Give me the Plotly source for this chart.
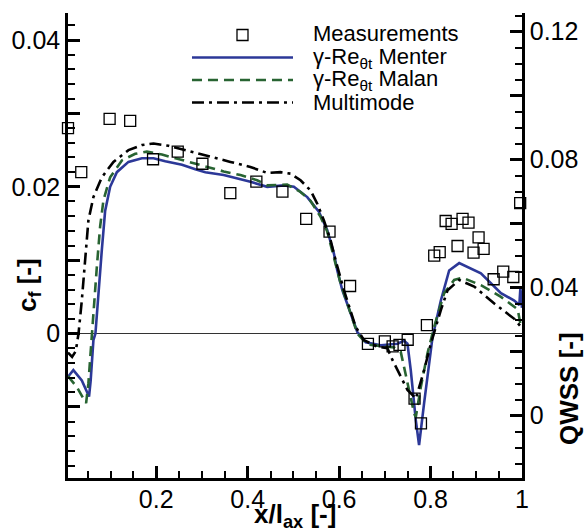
import plotly.graph_objects as go

# ---------------- data ----------------
menter_x = [0.007, 0.0187, 0.0372, 0.0530, 0.0565, 0.0626, 0.0670, 0.0722, 0.0810, 0.0882, 0.0992,
            0.1139, 0.1393, 0.1687, 0.1941, 0.2197, 0.2563, 0.2855, 0.3074, 0.3475, 0.4060,
            0.4426, 0.4790, 0.5010, 0.5303, 0.5557, 0.5741, 0.5886, 0.5960, 0.6070, 0.6252,
            0.6399, 0.6581, 0.6910, 0.7276, 0.7420, 0.7495, 0.7567, 0.7677, 0.7749, 0.7859,
            0.8043, 0.8225, 0.8407, 0.8626, 0.9101, 0.9540, 0.9830, 0.9942, 0.9965, 1.0]
menter_cf = [-0.0059, -0.0050, -0.0064, -0.0086, -0.0065, -0.0009, 0.0000, 0.0045, 0.0114, 0.0167, 0.0200,
             0.0220, 0.0234, 0.0239, 0.0239, 0.0235, 0.0230, 0.0224, 0.0220, 0.0216, 0.0207,
             0.0200, 0.0202, 0.0200, 0.0186, 0.0166, 0.0141, 0.0109, 0.0086, 0.0059, 0.0027,
             0.0002, -0.0012, -0.0016, -0.0014, -0.0010, -0.0014, -0.0050, -0.0118, -0.0152, -0.0095,
             -0.0005, 0.0045, 0.0086, 0.0096, 0.0082, 0.0055, 0.0045, 0.0039, 0.0062, 0.0035]

malan_x = [0.007, 0.0262, 0.0466, 0.0516, 0.0553, 0.0591, 0.0648, 0.0701, 0.0773, 0.0846, 0.0992,
           0.1248, 0.1540, 0.1796, 0.2125, 0.2417, 0.2783, 0.3002, 0.3475, 0.3841, 0.4207,
           0.4426, 0.4865, 0.5156, 0.5375, 0.5595, 0.5741, 0.6033, 0.6399, 0.6618, 0.6983,
           0.7202, 0.7348, 0.7421, 0.7531, 0.7641, 0.7677, 0.7787, 0.7933, 0.8079, 0.8298,
           0.8517, 0.8700, 0.9101, 0.9540, 0.9905, 0.9963, 1.0]
malan_cf = [-0.0058, -0.0073, -0.0095, -0.0068, -0.0036, 0.0000, 0.0045, 0.0091, 0.0146, 0.0182, 0.0213,
            0.0236, 0.0245, 0.0248, 0.0244, 0.0239, 0.0233, 0.0230, 0.0221, 0.0216, 0.0209,
            0.0202, 0.0203, 0.0193, 0.0181, 0.0159, 0.0139, 0.0068, 0.0000, -0.0015, -0.0018,
            -0.0019, -0.0025, -0.0046, -0.0077, -0.0109, -0.0114, -0.0073, -0.0027, 0.0009, 0.0055,
            0.0073, 0.0076, 0.0066, 0.0050, 0.0033, 0.0014, 0.0010]

multi_x = [0.007, 0.0160, 0.0240, 0.0300, 0.0372, 0.0444, 0.0516, 0.0626, 0.0810, 0.1064, 0.1393,
           0.1687, 0.1941, 0.2270, 0.2636, 0.3002, 0.3184, 0.3622, 0.4060, 0.4426, 0.4718,
           0.4937, 0.5156, 0.5375, 0.5522, 0.5667, 0.5814, 0.5923, 0.6105, 0.6362, 0.6544,
           0.6837, 0.7056, 0.7166, 0.7348, 0.7495, 0.7639, 0.7677, 0.7859, 0.8005, 0.8225,
           0.8372, 0.8626, 0.8954, 0.9393, 0.9831, 0.9978]
multi_cf = [-0.0026, -0.0032, -0.0024, 0.0000, 0.0045, 0.0096, 0.0154, 0.0186, 0.0213, 0.0234, 0.0250,
            0.0257, 0.0259, 0.0256, 0.0250, 0.0243, 0.0241, 0.0234, 0.0227, 0.0219, 0.0220,
            0.0218, 0.0209, 0.0195, 0.0177, 0.0154, 0.0127, 0.0100, 0.0059, 0.0009, -0.0009,
            -0.0018, -0.0020, -0.0036, -0.0059, -0.0077, -0.0086, -0.0089, -0.0050, -0.0014, 0.0032,
            0.0059, 0.0073, 0.0064, 0.0041, 0.0020, 0.0009]

meas_x = [0.007, 0.036, 0.098, 0.143, 0.193, 0.247, 0.301, 0.362, 0.419, 0.476, 0.528, 0.579,
          0.624, 0.663, 0.700, 0.717, 0.732, 0.750, 0.765, 0.779, 0.792, 0.808, 0.820, 0.833,
          0.846, 0.859, 0.870, 0.883, 0.894, 0.905, 0.916, 0.938, 0.959, 0.981, 0.996]
meas_qwss = [0.0898, 0.0761, 0.0927, 0.0921, 0.0801, 0.0825, 0.0787, 0.0695, 0.0731, 0.0700, 0.0615, 0.0575,
             0.0405, 0.0224, 0.0232, 0.0216, 0.0221, 0.0237, 0.0053, -0.0024, 0.0283, 0.0500, 0.0511, 0.0608,
             0.0599, 0.0530, 0.0615, 0.0603, 0.0509, 0.0557, 0.0521, 0.0426, 0.0450, 0.0433, 0.0664]

x_tickvals = [0.2, 0.4, 0.6, 0.8, 1.0]
x_ticktext = ["0.2", "0.4", "0.6", "0.8", "1"]
cf_tickvals = [0.0, 0.02, 0.04]
cf_ticktext = ["0", "0.02", "0.04"]
cf_unlabeled = [-0.01, 0.01, 0.03]
q_tickvals = [0.0, 0.04, 0.08, 0.12]
q_ticktext = ["0", "0.04", "0.08", "0.12"]
q_unlabeled = [0.02, 0.06, 0.10]

legend_names = ["Measurements", "γ-Re<sub>θt</sub> Menter", "γ-Re<sub>θt</sub> Malan", "Multimode"]

# ---------------- style ----------------
BLUE = "rgb(44,56,152)"
GREEN = "rgb(40,100,50)"
BLACK = "black"
FONT = "Liberation Sans, Arial, sans-serif"
MALAN_DASH = "10px,6px"
MULTI_DASH = "12px,5px,3px,5px"
CF_RANGE = [-0.0197, 0.0437]
Q_RANGE = [-0.0195, 0.1258]

fig = go.Figure()
fig.add_trace(go.Scatter(x=menter_x, y=menter_cf, mode="lines", name=legend_names[1],
                         line=dict(color=BLUE, width=2.6), showlegend=False))
fig.add_trace(go.Scatter(x=malan_x, y=malan_cf, mode="lines", name=legend_names[2],
                         line=dict(color=GREEN, width=2.6, dash=MALAN_DASH), showlegend=False))
fig.add_trace(go.Scatter(x=multi_x, y=multi_cf, mode="lines", name=legend_names[3],
                         line=dict(color=BLACK, width=2.6, dash=MULTI_DASH), showlegend=False))
fig.add_trace(go.Scatter(x=meas_x, y=meas_qwss, mode="markers", name=legend_names[0], yaxis="y2",
                         marker=dict(symbol="square-open", size=11, color="black", line=dict(width=1.3)),
                         cliponaxis=False, showlegend=False))
# empty helper traces so that the unlabeled major-tick axes are drawn
fig.add_trace(go.Scatter(x=[], y=[], yaxis="y3", showlegend=False, hoverinfo="skip"))
fig.add_trace(go.Scatter(x=[], y=[], yaxis="y4", showlegend=False, hoverinfo="skip"))

TICKFONT = dict(family=FONT, size=25, color="black")
axis_common = dict(showline=True, linecolor="black", linewidth=2.5, ticks="inside",
                   tickcolor="black", tickwidth=2.5, ticklen=12, showgrid=False, tickfont=TICKFONT)
extra_common = dict(showline=False, ticks="inside", tickcolor="black", tickwidth=2.5, ticklen=12,
                    showgrid=False, zeroline=False, showticklabels=False, tickmode="array", anchor="x")

fig.update_layout(
    width=584, height=532, autosize=False,
    margin=dict(l=68, r=62, t=13, b=54, autoexpand=False),
    paper_bgcolor="white", plot_bgcolor="white",
    showlegend=False,
    xaxis=dict(range=[0.007, 1.0], tickmode="array", tickvals=x_tickvals, ticktext=x_ticktext,
               zeroline=False, ticklabelstandoff=-3,
               minor=dict(ticks="inside", dtick=0.05, tick0=0, ticklen=7, tickwidth=1.5, tickcolor="black"),
               **axis_common),
    yaxis=dict(range=CF_RANGE, tickmode="array", tickvals=cf_tickvals, ticktext=cf_ticktext,
               zeroline=True, zerolinecolor="#333333", zerolinewidth=1.2,
               minor=dict(ticks="inside", dtick=0.002, tick0=0, ticklen=7, tickwidth=1.5, tickcolor="black"),
               **axis_common),
    yaxis2=dict(range=Q_RANGE, overlaying="y", side="right", tickmode="array",
                tickvals=q_tickvals, ticktext=q_ticktext, zeroline=False,
                minor=dict(ticks="inside", dtick=0.005, tick0=0, ticklen=7, tickwidth=1.5, tickcolor="black"),
                **axis_common),
    yaxis3=dict(range=CF_RANGE, overlaying="y", side="left", tickvals=cf_unlabeled, **extra_common),
    yaxis4=dict(range=Q_RANGE, overlaying="y", side="right", tickvals=q_unlabeled, **extra_common),
)

# axis titles
fig.add_annotation(text="<b>x/l<sub>ax</sub> [-]</b>", xref="paper", yref="paper", x=0.5, y=-0.081,
                   xanchor="center", yanchor="middle", showarrow=False,
                   font=dict(family=FONT, size=26, color="black"))
fig.add_annotation(text="<b>c<sub>f</sub> [-]</b>", xref="paper", yref="paper", x=-0.088, y=0.415,
                   xanchor="center", yanchor="middle", textangle=-90, showarrow=False,
                   font=dict(family=FONT, size=26, color="black"))
fig.add_annotation(text="<b>QWSS [-]</b>", xref="paper", yref="paper", x=1.1035, y=0.1935,
                   xanchor="center", yanchor="middle", textangle=-90, showarrow=False,
                   font=dict(family=FONT, size=26, color="black"))

# legend (drawn manually to match the compact layout)
row_y = [0.956, 0.9043, 0.8559, 0.8075]
lx0, lx1, tx = 0.2731, 0.4956, 0.5352
for name, yy in zip(legend_names, row_y):
    fig.add_annotation(text=name, xref="paper", yref="paper", x=tx, y=yy, xanchor="left",
                       yanchor="middle", showarrow=False,
                       font=dict(family=FONT, size=22, color="black"))
sq_w, sq_h = 11 / 454, 11 / 465
cx = (lx0 + lx1) / 2
fig.add_shape(type="rect", xref="paper", yref="paper", x0=cx - sq_w / 2, x1=cx + sq_w / 2,
              y0=0.9527 - sq_h / 2, y1=0.9527 + sq_h / 2, line=dict(color="black", width=1.3))
fig.add_shape(type="line", xref="paper", yref="paper", x0=lx0, x1=lx1, y0=row_y[1], y1=row_y[1],
              line=dict(color=BLUE, width=2.6))
fig.add_shape(type="line", xref="paper", yref="paper", x0=lx0, x1=lx1, y0=row_y[2], y1=row_y[2],
              line=dict(color=GREEN, width=2.6, dash=MALAN_DASH))
fig.add_shape(type="line", xref="paper", yref="paper", x0=lx0, x1=lx1, y0=row_y[3], y1=row_y[3],
              line=dict(color=BLACK, width=2.6, dash=MULTI_DASH))

fig.write_html("out.html", config={"displayModeBar": False, "responsive": False},
               post_script="document.body.style.margin='0px';document.body.style.overflow='hidden';")
